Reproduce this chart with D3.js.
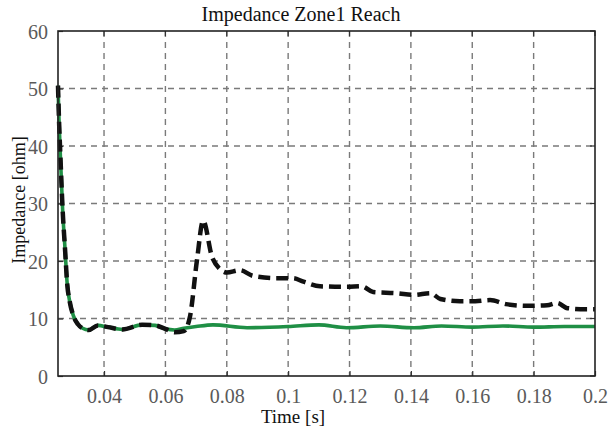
<!DOCTYPE html>
<html>
<head>
<meta charset="utf-8">
<script src="https://cdn.jsdelivr.net/npm/d3@7"></script>
<style>
  html, body { margin: 0; padding: 0; background: #fff; }
  svg { display: block; }
  svg text { font-family: "Liberation Serif", "Times New Roman", serif !important; }
</style>
</head>
<body>
<svg id="chart" width="611" height="432"></svg>
<script>
// ---- Data ----
const xTicks = [0.04, 0.06, 0.08, 0.1, 0.12, 0.14, 0.16, 0.18, 0.2];
const xTickLabels = ["0.04", "0.06", "0.08", "0.1", "0.12", "0.14", "0.16", "0.18", "0.2"];
const yTicks = [0, 10, 20, 30, 40, 50, 60];
const yTickLabels = ["0", "10", "20", "30", "40", "50", "60"];

// Green solid series
const greenTime = [0.025, 0.0253, 0.0258, 0.0265, 0.0273, 0.028, 0.0288, 0.030, 0.0315, 0.033, 0.035, 0.038, 0.0413, 0.046, 0.0524, 0.0566, 0.060, 0.063, 0.066, 0.070, 0.0755, 0.0866, 0.100, 0.110, 0.119, 0.130, 0.141, 0.150, 0.160, 0.170, 0.180, 0.190, 0.200];
const greenZ    = [50.5, 45, 38, 29, 22, 16, 13, 10.5, 9.0, 8.3, 8.0, 8.8, 8.5, 8.1, 8.9, 8.8, 8.2, 8.0, 8.3, 8.6, 8.9, 8.4, 8.6, 8.9, 8.4, 8.7, 8.4, 8.7, 8.5, 8.7, 8.5, 8.6, 8.6];

// Black dashed series
const dashedTime = [0.025, 0.0253, 0.0258, 0.0265, 0.0273, 0.028, 0.0288, 0.030, 0.0315, 0.033, 0.035, 0.038, 0.0413, 0.046, 0.0524, 0.0566, 0.060, 0.063, 0.066, 0.068, 0.0703, 0.0723, 0.0752, 0.0778, 0.080, 0.0843, 0.0886, 0.0964, 0.1016, 0.105, 0.1104, 0.119, 0.124, 0.1277, 0.1355, 0.141, 0.1464, 0.1496, 0.156, 0.161, 0.1658, 0.171, 0.178, 0.1844, 0.1877, 0.191, 0.197, 0.200];
const dashedZ    = [50.5, 45, 38, 29, 22, 16, 13, 10.5, 9.0, 8.3, 8.0, 8.8, 8.5, 8.1, 8.9, 8.8, 8.2, 7.6, 7.8, 10.3, 20.2, 27.0, 20.7, 18.6, 18.0, 18.4, 17.4, 17.0, 17.0, 16.4, 15.6, 15.5, 15.6, 14.6, 14.4, 14.1, 14.4, 13.4, 13.0, 13.0, 13.2, 12.5, 12.2, 12.3, 12.7, 11.8, 11.6, 11.6];

const titleText = "Impedance Zone1 Reach";
const xLabelText = "Time [s]";
const yLabelText = "Impedance [ohm]";

// ---- Layout ----
const W = 611, H = 432;
const margin = { left: 58, right: 16, top: 31, bottom: 56 };
const iw = W - margin.left - margin.right;
const ih = H - margin.top - margin.bottom;
const serif = "Liberation Serif, Times New Roman, serif";

const svg = d3.select("#chart");
const g = svg.append("g").attr("transform", `translate(${margin.left},${margin.top})`);

const x = d3.scaleLinear().domain([0.025, 0.2]).range([0, iw]);
const y = d3.scaleLinear().domain([0, 60]).range([ih, 0]);

// Grid
const gridColor = "#7a7a7a";
g.append("g").selectAll("line").data(xTicks.slice(0, -1)).join("line")
  .attr("x1", d => x(d)).attr("x2", d => x(d))
  .attr("y1", 0).attr("y2", ih)
  .attr("stroke", gridColor).attr("stroke-width", 1.4).attr("stroke-dasharray", "6,5");
g.append("g").selectAll("line").data(yTicks.slice(1, -1)).join("line")
  .attr("x1", 0).attr("x2", iw)
  .attr("y1", d => y(d)).attr("y2", d => y(d))
  .attr("stroke", gridColor).attr("stroke-width", 1.4).attr("stroke-dasharray", "6,5");

// Axes (ticks inward, MATLAB style)
const xAxis = d3.axisBottom(x).tickValues(xTicks).tickFormat((d, i) => xTickLabels[i]).tickSizeInner(-5).tickSizeOuter(0).tickPadding(13);
const yAxis = d3.axisLeft(y).tickValues(yTicks).tickFormat((d, i) => yTickLabels[i]).tickSizeInner(-5).tickSizeOuter(0).tickPadding(10);

const gx = g.append("g").attr("transform", `translate(0,${ih})`).call(xAxis);
const gy = g.append("g").call(yAxis);
[gx, gy].forEach(a => {
  a.attr("font-family", serif).attr("font-size", 20);
  a.select(".domain").remove();
  a.selectAll(".tick line").attr("stroke", "#333").attr("stroke-width", 1.2);
  a.selectAll(".tick text").attr("fill", "#5a5a5a").attr("font-family", serif).attr("font-size", 20);
});
gy.selectAll(".tick text").attr("dy", "0.35em");

// Top and right inward ticks
g.append("g").selectAll("line").data(xTicks).join("line")
  .attr("x1", d => x(d)).attr("x2", d => x(d)).attr("y1", 0).attr("y2", 5)
  .attr("stroke", "#333").attr("stroke-width", 1.2);
g.append("g").selectAll("line").data(yTicks).join("line")
  .attr("x1", iw).attr("x2", iw - 5).attr("y1", d => y(d)).attr("y2", d => y(d))
  .attr("stroke", "#333").attr("stroke-width", 1.2);

// Lines
const lineGen = d3.line().x(d => x(d[0])).y(d => y(d[1])).curve(d3.curveMonotoneX);
const greenData = greenTime.map((t, i) => [t, greenZ[i]]);
const dashedData = dashedTime.map((t, i) => [t, dashedZ[i]]);

g.append("path").datum(greenData).attr("d", lineGen)
  .attr("fill", "none").attr("stroke", "#1f8f45").attr("stroke-width", 3.6);
g.append("path").datum(dashedData).attr("d", lineGen)
  .attr("fill", "none").attr("stroke", "#111").attr("stroke-width", 4.5)
  .attr("stroke-dasharray", "12,6").attr("stroke-linejoin", "round");

// Frame
g.append("rect").attr("x", 0).attr("y", 0).attr("width", iw).attr("height", ih)
  .attr("fill", "none").attr("stroke", "#222").attr("stroke-width", 1.6);

// Title and labels
svg.append("text").attr("x", 301).attr("y", 21).attr("text-anchor", "middle")
  .attr("font-family", serif).attr("font-size", 20).attr("fill", "#111").text(titleText);
svg.append("text").attr("x", 293).attr("y", 423).attr("text-anchor", "middle")
  .attr("font-family", serif).attr("font-size", 19).attr("fill", "#111").text(xLabelText);
svg.append("text").attr("transform", "translate(25,200) rotate(-90)").attr("text-anchor", "middle")
  .attr("font-family", serif).attr("font-size", 18).attr("fill", "#111").text(yLabelText);
</script>
</body>
</html>
